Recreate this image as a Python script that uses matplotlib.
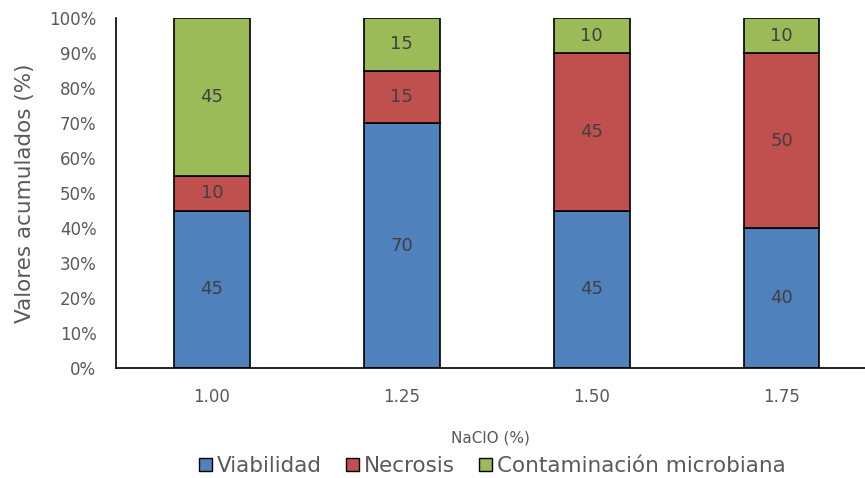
import numpy as np
import matplotlib.pyplot as plt
from matplotlib.patches import Patch

categories = ['1.00', '1.25', '1.50', '1.75']
viabilidad = [45, 70, 45, 40]
necrosis = [10, 15, 45, 50]
contaminacion = [45, 15, 10, 10]
series_names = ['Viabilidad', 'Necrosis', 'Contaminación microbiana']
colors = ['#4F81BD', '#C0504D', '#9BBB59']

fig = plt.figure(figsize=(8.65, 4.78), dpi=100)
ax = fig.add_axes([0.134, 0.230, 0.866, 0.732])

x = np.arange(len(categories))
bottom = np.zeros(len(categories))
for vals, name, col in zip([viabilidad, necrosis, contaminacion], series_names, colors):
    bars = ax.bar(x, vals, 0.4, bottom=bottom, color=col, edgecolor='black',
                  linewidth=1.2, label=name)
    for b, v, b0 in zip(bars, vals, bottom):
        ax.text(b.get_x() + b.get_width() / 2, b0 + v / 2, str(v),
                ha='center', va='center', fontsize=13, color='#404040')
    bottom += vals

ax.set_xlim(-0.506, 3.44)
ax.set_ylim(0, 100)
ax.set_yticks(np.arange(0, 101, 10))
ax.set_yticklabels([f'{v}%' for v in range(0, 101, 10)])
ax.set_xticks(x)
ax.set_xticklabels(categories)
ax.tick_params(length=0, labelsize=12, colors='#595959')
ax.tick_params(axis='y', pad=14)
ax.tick_params(axis='x', pad=14)
for s in ['top', 'right']:
    ax.spines[s].set_visible(False)
for s in ['left', 'bottom']:
    ax.spines[s].set_linewidth(1.2)
ax.set_ylabel('Valores acumulados (%)', fontsize=15.5, color='#595959', labelpad=10)
ax.set_xlabel('NaClO (%)', fontsize=11, color='#595959', labelpad=18)

handles = [Patch(facecolor=c, edgecolor='black', label=n) for c, n in zip(colors, series_names)]
fig.legend(handles=handles, loc='center', bbox_to_anchor=(0.569, 0.025), ncol=3,
           frameon=False, fontsize=15.5, labelcolor='#595959', handlelength=0.6,
           handleheight=0.6, handletextpad=0.25, columnspacing=1.1)

fig.savefig('out.png', dpi=100)
